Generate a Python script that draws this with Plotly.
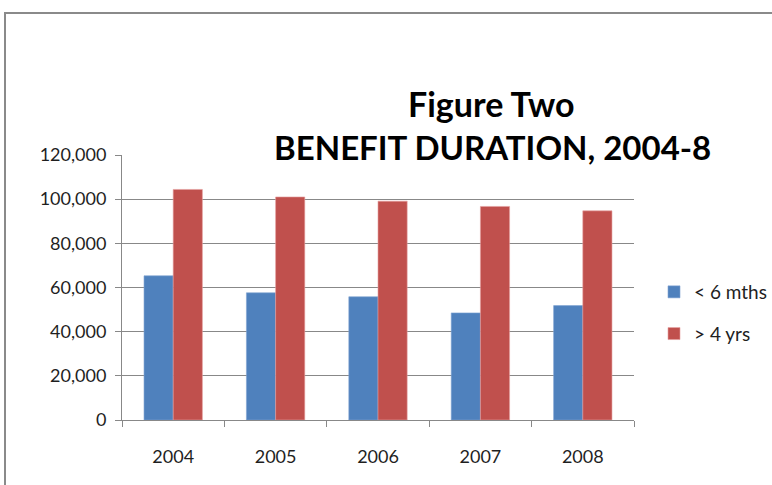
import plotly.graph_objects as go

# Claimant counts by benefit duration, 2004-2008
years = ["2004", "2005", "2006", "2007", "2008"]
under_6_months = [65300, 57600, 55800, 48500, 51800]
over_4_years = [104400, 101000, 99100, 96700, 94700]
series_names = ["< 6 mths", "> 4 yrs"]
y_ticks = [0, 20000, 40000, 60000, 80000, 100000, 120000]

BLUE = "#4F81BD"
RED = "#C0504D"
GRID = "#888888"
TEXT = "#1f1f1f"
FONT = "Lato"

fig = go.Figure()
fig.add_trace(go.Bar(x=years, y=under_6_months, name=series_names[0],
                     marker=dict(color=BLUE, line=dict(color="#7fa3d1", width=0.6)),
                     legendgroup="a"))
fig.add_trace(go.Bar(x=years, y=over_4_years, name=series_names[1],
                     marker=dict(color=RED, line=dict(color="#e6a0a0", width=0.6)),
                     legendgroup="b"))

# plot area spans roughly x 122..634, y 155..420 px
L, R, T, B = 122, 138, 155, 65
W, H = 772 - L - R, 485 - T - B

def px(x):
    return (x - L) / W

def py(y):
    return (485 - B - y) / H

fig.update_layout(
    width=772, height=485,
    margin=dict(l=L, r=R, t=T, b=B, autoexpand=False),
    paper_bgcolor="white", plot_bgcolor="white",
    barmode="group", bargap=0.43, bargroupgap=0,
    font=dict(family=FONT, size=17, color=TEXT),
    showlegend=True,
    legend=dict(x=px(654), y=py(273), xanchor="left", yanchor="top",
                font=dict(family=FONT, size=19, color=TEXT),
                traceorder="grouped", tracegroupgap=14,
                bgcolor="rgba(0,0,0,0)"),
    xaxis=dict(showline=True, linecolor=GRID, linewidth=1,
               ticks="outside", ticklen=6, tickcolor=GRID,
               tickson="boundaries", showgrid=False,
               tickfont=dict(family=FONT, size=18, color=TEXT),
               ticklabelstandoff=20),
    yaxis=dict(range=[0, 120000], tickvals=y_ticks,
               tickformat=",d", showline=True, linecolor=GRID, linewidth=1,
               ticks="outside", ticklen=6, tickcolor=GRID,
               showgrid=True, gridcolor=GRID, gridwidth=1,
               zeroline=False,
               tickfont=dict(family=FONT, size=18, color=TEXT),
               ticklabelstandoff=5),
)

# frame around the chart (top and left edges visible)
fig.add_shape(type="path", xref="paper", yref="paper",
              path=f"M {px(5)} {py(487)} L {px(5)} {py(13)} L {px(775)} {py(13)}",
              line=dict(color="#8a8a8a", width=2), layer="above")

# two-line title drawn over the gridlines
fig.add_annotation(text="<b>Figure Two</b>", xref="paper", yref="paper",
                   x=px(491), y=py(103), xanchor="center", yanchor="middle",
                   showarrow=False, font=dict(family=FONT, size=34, color="#000000"))
fig.add_annotation(text="<b>BENEFIT DURATION, 2004-8</b>", xref="paper", yref="paper",
                   x=px(492), y=py(147), xanchor="center", yanchor="middle",
                   showarrow=False, font=dict(family=FONT, size=33, color="#000000"))

fig.write_html("out.html")
